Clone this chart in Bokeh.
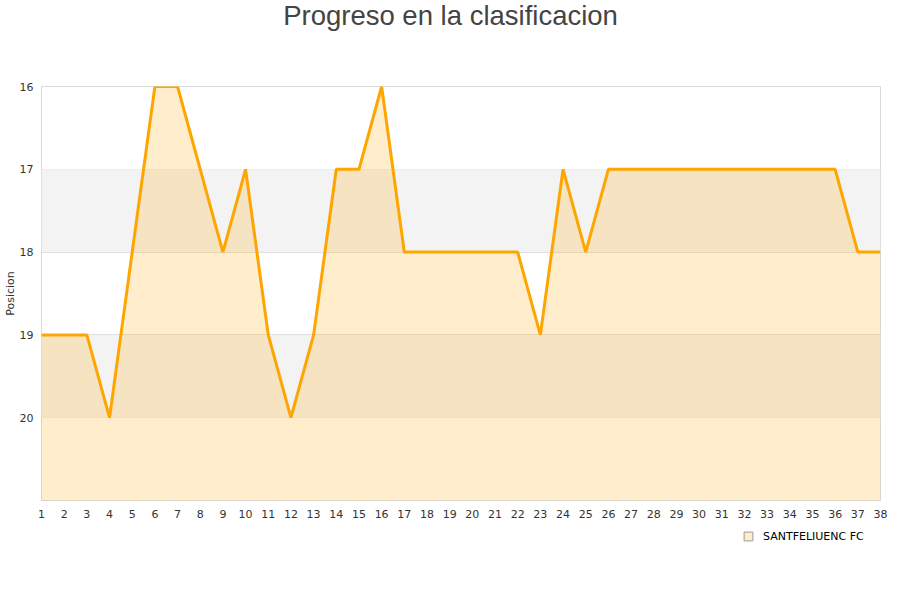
from bokeh.plotting import figure
from bokeh.layouts import column
from bokeh.models import (Range1d, FixedTicker, BoxAnnotation, Legend, LegendItem,
                          ColumnDataSource, Label)
from bokeh.embed import file_html
from bokeh.resources import INLINE

jornadas = list(range(1, 39))
posicion = [19, 19, 19, 20, 18, 16, 16, 17, 18, 17,
            19, 20, 19, 17, 17, 16, 18, 18, 18, 18,
            18, 18, 19, 17, 18, 17, 17, 17, 17, 17,
            17, 17, 17, 17, 17, 17, 18, 18]
y_ticks = [16, 17, 18, 19, 20]
bands = [(17, 18), (19, 20)]
y_bottom = 21
team = "SANTFELIUENC FC"
title = "Progreso en la clasificacion"

src = ColumnDataSource(dict(x=jornadas, y=posicion, base=[y_bottom] * len(jornadas)))

# title strip
head = figure(width=900, height=78, output_backend="svg", toolbar_location=None,
              min_border=0, outline_line_color=None,
              x_range=Range1d(0, 840), y_range=Range1d(0, 78))
head.axis.visible = False
head.grid.visible = False
head.add_layout(Label(x=409.5, y=63, text=title, text_align="center", text_baseline="middle",
                      text_font="Liberation Sans", text_font_size="27.5px",
                      text_color="#444444"))

p = figure(width=900, height=442, output_backend="svg", toolbar_location=None,
           x_range=Range1d(1, 38), y_range=Range1d(y_bottom, 16),
           min_border_left=40, min_border_right=20, min_border_top=8, min_border_bottom=20)

for lo, hi in bands:
    p.add_layout(BoxAnnotation(bottom=lo, top=hi, fill_color="#f3f3f3", fill_alpha=1.0,
                               line_color=None, level="underlay"))

area = p.varea(x="x", y1="y", y2="base", source=src, fill_color="#ffa500", fill_alpha=0.2)
p.line(x="x", y="y", source=src, line_color="#ffa500", line_width=3)

p.outline_line_color = "#d8d8d8"
p.outline_line_width = 1

p.xaxis.ticker = FixedTicker(ticks=jornadas)
p.yaxis.ticker = FixedTicker(ticks=y_ticks)
for ax in (p.xaxis[0], p.yaxis[0]):
    ax.axis_line_color = None
    ax.major_tick_line_color = None
    ax.minor_tick_line_color = None
    ax.major_label_text_font = "DejaVu Sans"
    ax.major_label_text_font_size = "11px"
    ax.major_label_text_color = "#333333"
p.xaxis.major_label_standoff = 3
p.yaxis.major_label_standoff = 2
p.yaxis.axis_label = "Posicion"
p.yaxis.axis_label_text_font = "DejaVu Sans"
p.yaxis.axis_label_text_font_size = "11px"
p.yaxis.axis_label_text_font_style = "normal"
p.yaxis.axis_label_text_color = "#333333"
p.yaxis.axis_label_standoff = 0

p.xgrid.grid_line_color = None
p.ygrid.ticker = FixedTicker(ticks=y_ticks)
p.ygrid.grid_line_color = "#e0e0e0"

# legend strip below the chart
leg = figure(width=900, height=80, output_backend="svg", toolbar_location=None,
             min_border=0, outline_line_color=None)
leg.axis.visible = False
leg.grid.visible = False
swatch = leg.scatter(x="x", y="y", source=src, marker="square", size=9,
                     fill_color="#ffa500", fill_alpha=0.2, line_color="#999999", line_width=1)
swatch.visible = False
legend = Legend(items=[LegendItem(label=team, renderers=[swatch])],
                location=(696, 53), orientation="horizontal",
                border_line_color=None, background_fill_alpha=0,
                label_text_font="DejaVu Sans", label_text_font_size="11px",
                label_text_color="#000000",
                glyph_width=22, glyph_height=22, label_standoff=4, margin=0, padding=4)
leg.add_layout(legend)

open("out.html", "w").write(file_html(column(head, p, leg, spacing=0), INLINE))
